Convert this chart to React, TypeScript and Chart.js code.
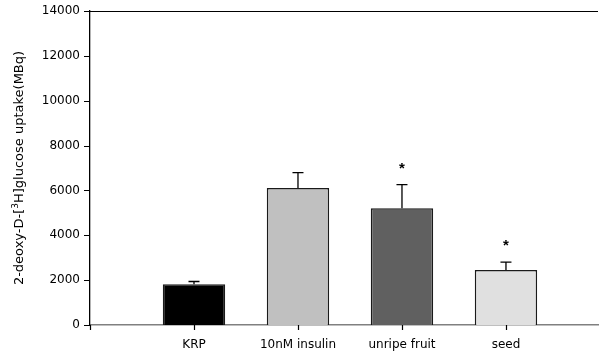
import React, { useEffect, useRef } from "react";
import { Chart, registerables } from "chart.js";

Chart.register(...registerables);

const categories = ["KRP", "10nM insulin", "unripe fruit", "seed"];
const means = [1820, 6110, 5210, 2450];
const errors = [120, 680, 1050, 350];
const significant = [false, false, true, true];
const barColors = ["#000000", "#c0c0c0", "#606060", "#e0e0e0"];
const yTicks = [0, 2000, 4000, 6000, 8000, 10000, 12000, 14000];
const xTicks = [0, 1, 2, 3, 4];

const FONT = "'DejaVu Sans', sans-serif";

export default function App() {
  const ref = useRef<HTMLCanvasElement>(null);

  useEffect(() => {
    const canvas = ref.current!;
    const extras = {
      id: "extras",
      afterDraw(chart: any) {
        const ctx = chart.ctx;
        const xs = chart.scales.x;
        const ys = chart.scales.y;
        const area = chart.chartArea;
        ctx.save();
        ctx.strokeStyle = "#000";
        ctx.lineWidth = 1.2;
        ctx.beginPath();
        ctx.moveTo(area.left - 5, Math.round(area.top) + 0.5);
        ctx.lineTo(area.right, Math.round(area.top) + 0.5);
        yTicks.forEach((v) => {
          const y = Math.round(ys.getPixelForValue(v)) + 0.5;
          ctx.moveTo(area.left - 6, y);
          ctx.lineTo(area.left, y);
        });
        xTicks.forEach((v) => {
          const x = Math.round(xs.getPixelForValue(v)) + 0.5;
          ctx.moveTo(x, area.bottom);
          ctx.lineTo(x, area.bottom + 5);
        });
        ctx.stroke();
        ctx.lineWidth = 1.3;
        means.forEach((m, i) => {
          const x = xs.getPixelForValue(i + 1);
          const y0 = ys.getPixelForValue(m);
          const y1 = ys.getPixelForValue(m + errors[i]);
          ctx.beginPath();
          ctx.moveTo(x, y0);
          ctx.lineTo(x, y1);
          ctx.moveTo(x - 5.5, y1);
          ctx.lineTo(x + 5.5, y1);
          ctx.stroke();
          if (significant[i]) {
            ctx.fillStyle = "#000";
            ctx.font = `bold 15px 'Liberation Sans', Arial, sans-serif`;
            ctx.textAlign = "center";
            ctx.textBaseline = "middle";
            ctx.fillText("*", x, y1 - 16);
          }
        });
        ctx.translate(20, area.top + (area.bottom - area.top) / 2);
        ctx.rotate(-Math.PI / 2);
        ctx.fillStyle = "#000";
        ctx.textBaseline = "middle";
        const main = `13px ${FONT}`;
        const sup = `9px ${FONT}`;
        const parts: [string, string, number][] = [
          ["2-deoxy-D-[", main, 0],
          ["3", sup, -4],
          ["H]glucose uptake(MBq)", main, 0],
        ];
        let total = 0;
        parts.forEach(([t, f]) => {
          ctx.font = f;
          total += ctx.measureText(t).width;
        });
        let cx = -total / 2;
        ctx.textAlign = "left";
        parts.forEach(([t, f, dy]) => {
          ctx.font = f;
          ctx.fillText(t, cx, dy);
          cx += ctx.measureText(t).width;
        });
        ctx.restore();
      },
    };

    const chart = new Chart(canvas, {
      type: "bar",
      data: {
        datasets: [
          {
            data: means.map((m, i) => ({ x: i + 1, y: m })),
            backgroundColor: barColors,
            borderColor: "#1a1a1a",
            borderWidth: 1.5,
            barPercentage: 0.6,
            categoryPercentage: 1,
          },
        ],
      },
      options: {
        animation: false,
        responsive: false,
        maintainAspectRatio: false,
        layout: { padding: { top: 11, right: 4, left: 0, bottom: 0 } },
        plugins: { legend: { display: false }, tooltip: { enabled: false } },
        scales: {
          x: {
            type: "linear",
            min: 0,
            max: 4.885,
            offset: false,
            afterBuildTicks: (s: any) => {
              s.ticks = xTicks.map((v) => ({ value: v }));
            },
            afterFit: (s: any) => {
              s.height = 30;
              s.paddingLeft = 0;
              s.paddingRight = 0;
            },
            ticks: {
              callback: (v: any) => (v >= 1 && v <= 4 ? categories[v - 1] : ""),
              color: "#000",
              font: { family: FONT, size: 12 },
              padding: 13,
              maxRotation: 0,
              autoSkip: false,
            },
            grid: { display: false, drawTicks: false },
            border: { display: true, color: "#808080", width: 1.5 },
          },
          y: {
            min: 0,
            max: 14000,
            afterBuildTicks: (s: any) => {
              s.ticks = yTicks.map((v) => ({ value: v }));
            },
            afterFit: (s: any) => {
              s.width = 90;
              s.paddingTop = 0;
              s.paddingBottom = 0;
            },
            ticks: {
              callback: (v: any) => String(v),
              color: "#000",
              font: { family: FONT, size: 12 },
              padding: 10,
            },
            grid: { display: false, drawTicks: false },
            border: { display: true, color: "#000", width: 1.3 },
          },
        },
      },
      plugins: [extras],
    } as any);
    return () => chart.destroy();
  }, []);

  return (
    <div style={{ position: "fixed", left: 0, top: 0, width: 602, height: 355, background: "#fff" }}>
      <canvas ref={ref} width={602} height={355} style={{ width: 602, height: 355 }} />
    </div>
  );
}
